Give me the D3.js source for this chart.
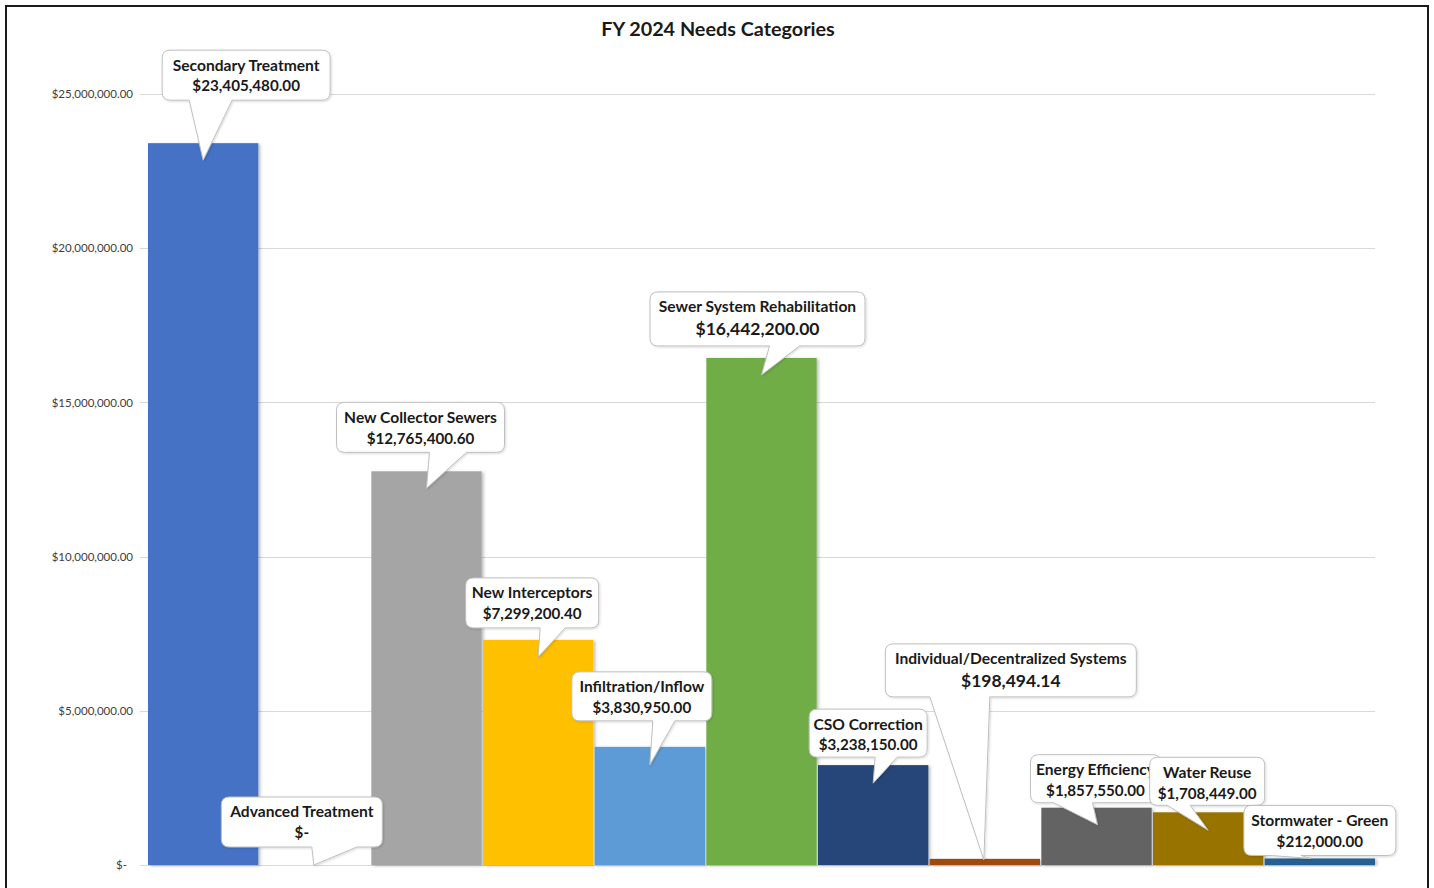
<!DOCTYPE html>
<html>
<head>
<meta charset="utf-8">
<script src="https://cdn.jsdelivr.net/npm/d3@7"></script>
<style>
  html, body { margin: 0; padding: 0; background: #fff; }
  svg { display: block; }
</style>
</head>
<body>
<svg id="chart" width="1434" height="888"></svg>
<script>
// ---------- data ----------
const categories = [
  "Secondary Treatment", "Advanced Treatment", "New Collector Sewers", "New Interceptors",
  "Infiltration/Inflow", "Sewer System Rehabilitation", "CSO Correction",
  "Individual/Decentralized Systems", "Energy Efficiency", "Water Reuse", "Stormwater - Green"
];
const values = [
  23405480.00, 0, 12765400.60, 7299200.40,
  3830950.00, 16442200.00, 3238150.00,
  198494.14, 1857550.00, 1708449.00, 212000.00
];
const valueLabels = [
  "$23,405,480.00", "$-", "$12,765,400.60", "$7,299,200.40",
  "$3,830,950.00", "$16,442,200.00", "$3,238,150.00",
  "$198,494.14", "$1,857,550.00", "$1,708,449.00", "$212,000.00"
];
const barColors = [
  "#4472C4", "#ED7D31", "#A5A5A5", "#FFC000",
  "#5B9BD5", "#70AD47", "#264478",
  "#9E480E", "#636363", "#997300", "#255E91"
];
const yTicks = [0, 5000000, 10000000, 15000000, 20000000, 25000000];
const yTickLabels = ["$-", "$5,000,000.00", "$10,000,000.00", "$15,000,000.00", "$20,000,000.00", "$25,000,000.00"];
const title = "FY 2024 Needs Categories";

// ---------- callout layout (relative to the bar's centre / top) ----------
// tdx,tdy: pointer tip offset; bx: box centre from tip x; bb: box bottom from tip y;
// b1,b2: pointer base ends from tip x; w,h: box size; big: larger value font
const calloutLayout = [
  {tdx: 0,  tdy: 17, bx: 43,  bb: -60,  b1: -14, b2: 29,  w: 168, h: 50},
  {tdx: -1, tdy: 0,  bx: -12, bb: -18,  b1: -2,  b2: 43,  w: 161, h: 50},
  {tdx: 0,  tdy: 17, bx: -6,  bb: -36,  b1: 3,   b2: 40,  w: 168, h: 50},
  {tdx: 0,  tdy: 17, bx: -6,  bb: -29,  b1: 2,   b2: 27,  w: 133, h: 50},
  {tdx: 0,  tdy: 18, bx: -8,  bb: -44,  b1: 3,   b2: 25,  w: 140, h: 49},
  {tdx: 0,  tdy: 17, bx: -4,  bb: -29,  b1: 8,   b2: 38,  w: 215, h: 54, big: true},
  {tdx: 0,  tdy: 18, bx: -5,  bb: -26,  b1: 2,   b2: 24,  w: 118, h: 48},
  {tdx: -1, tdy: 1,  bx: 27,  bb: -163, b1: -54, b2: 6,   w: 251, h: 53, big: true},
  {tdx: 1,  tdy: 17, bx: -2,  bb: -22,  b1: -44, b2: -5,  w: 130, h: 48},
  {tdx: 0,  tdy: 18, bx: -1,  bb: -25,  b1: -41, b2: -18, w: 115, h: 48},
  {tdx: -9, tdy: 0,  bx: 9,   bb: -3,   b1: -40, b2: -10, w: 152, h: 50}
];

// ---------- drawing ----------
const svg = d3.select("#chart");
const font = "Lato, 'Open Sans', sans-serif";

const defs = svg.append("defs");
const sh = defs.append("filter").attr("id", "barShadow").attr("x", "-10%").attr("y", "-10%").attr("width", "130%").attr("height", "130%");
sh.append("feDropShadow").attr("dx", 2).attr("dy", 1).attr("stdDeviation", 1.5).attr("flood-color", "#000").attr("flood-opacity", 0.25);
const bs = defs.append("filter").attr("id", "boxShadow").attr("x", "-10%").attr("y", "-10%").attr("width", "130%").attr("height", "130%");
bs.append("feDropShadow").attr("dx", 1).attr("dy", 1).attr("stdDeviation", 1.2).attr("flood-color", "#000").attr("flood-opacity", 0.15);

// frame
svg.append("rect").attr("x", 6).attr("y", 6).attr("width", 1422).attr("height", 900)
  .attr("fill", "#fff").attr("stroke", "#1a1a1a").attr("stroke-width", 2);

const x = d3.scaleBand().domain(categories).range([148, 1375]).paddingInner(0.012).paddingOuter(0);
const y = d3.scaleLinear().domain([0, 25000000]).range([865, 94]);

// title
svg.append("text").attr("x", 718).attr("y", 36).attr("text-anchor", "middle")
  .attr("font-family", font).attr("font-weight", 700).attr("font-size", 19.8)
  .attr("fill", "#1a1a1a").text(title);

// gridlines
svg.append("g").selectAll("line").data(yTicks).join("line")
  .attr("x1", 140).attr("x2", 1375)
  .attr("y1", d => Math.round(y(d)) + 0.5).attr("y2", d => Math.round(y(d)) + 0.5)
  .attr("stroke", "#d9d9d9").attr("stroke-width", 1);

// y axis labels
const yAxis = d3.axisLeft(y).tickValues(yTicks).tickSize(0).tickPadding(0)
  .tickFormat((d, i) => yTickLabels[i]);
const gy = svg.append("g").attr("transform", "translate(133,0)").call(yAxis);
gy.select(".domain").remove();
gy.selectAll("text").attr("font-family", font).attr("font-size", 11.5).attr("fill", "#404040")
  .attr("dy", "0.32em");
gy.selectAll(".tick").filter(d => d === 0).select("text").attr("x", -6);

// bars
svg.append("g").selectAll("rect").data(categories).join("rect")
  .attr("x", d => x(d))
  .attr("y", (d, i) => y(values[i]))
  .attr("width", x.bandwidth())
  .attr("height", (d, i) => y(0) - y(values[i]))
  .attr("fill", (d, i) => barColors[i])
  .attr("filter", "url(#barShadow)");

// callouts
function calloutPath(x0, y0, x1, y1, r, b1, b2, tx, ty) {
  return `M${x0 + r},${y0} L${x1 - r},${y0} Q${x1},${y0} ${x1},${y0 + r} ` +
         `L${x1},${y1 - r} Q${x1},${y1} ${x1 - r},${y1} ` +
         `L${b2},${y1} L${tx},${ty} L${b1},${y1} ` +
         `L${x0 + r},${y1} Q${x0},${y1} ${x0},${y1 - r} L${x0},${y0 + r} Q${x0},${y0} ${x0 + r},${y0} Z`;
}

const gc = svg.append("g");
categories.forEach((cat, i) => {
  const L = calloutLayout[i];
  const tx = x(cat) + x.bandwidth() / 2 + L.tdx;
  const ty = y(values[i]) + L.tdy;
  const cx = tx + L.bx;
  const y1 = ty + L.bb;
  const y0 = y1 - L.h;
  const x0 = cx - L.w / 2, x1 = cx + L.w / 2;
  const g = gc.append("g");
  g.append("path")
    .attr("d", calloutPath(x0, y0, x1, y1, 8, tx + L.b1, tx + L.b2, tx, ty))
    .attr("fill", "#fff").attr("stroke", "#bfbfbf").attr("stroke-width", 1)
    .attr("filter", "url(#boxShadow)");
  const clipId = "clip" + i;
  defs.append("clipPath").attr("id", clipId).append("rect")
    .attr("x", x0).attr("y", y0).attr("width", L.w).attr("height", L.h);
  const t = g.append("g").attr("clip-path", `url(#${clipId})`);
  const l1 = y0 + 15;
  const l2 = L.big ? y0 + 37 : y0 + 36;
  t.append("text").attr("x", cx).attr("y", l1).attr("dy", "0.35em")
    .attr("text-anchor", "middle").attr("font-family", font).attr("font-weight", 700)
    .attr("font-size", 15.6).attr("fill", "#1a1a1a").text(cat);
  t.append("text").attr("x", cx).attr("y", l2).attr("dy", "0.35em")
    .attr("text-anchor", "middle").attr("font-family", font).attr("font-weight", 700)
    .attr("font-size", L.big ? 17.5 : 15.2).attr("fill", "#1a1a1a").text(valueLabels[i]);
});
</script>
</body>
</html>
